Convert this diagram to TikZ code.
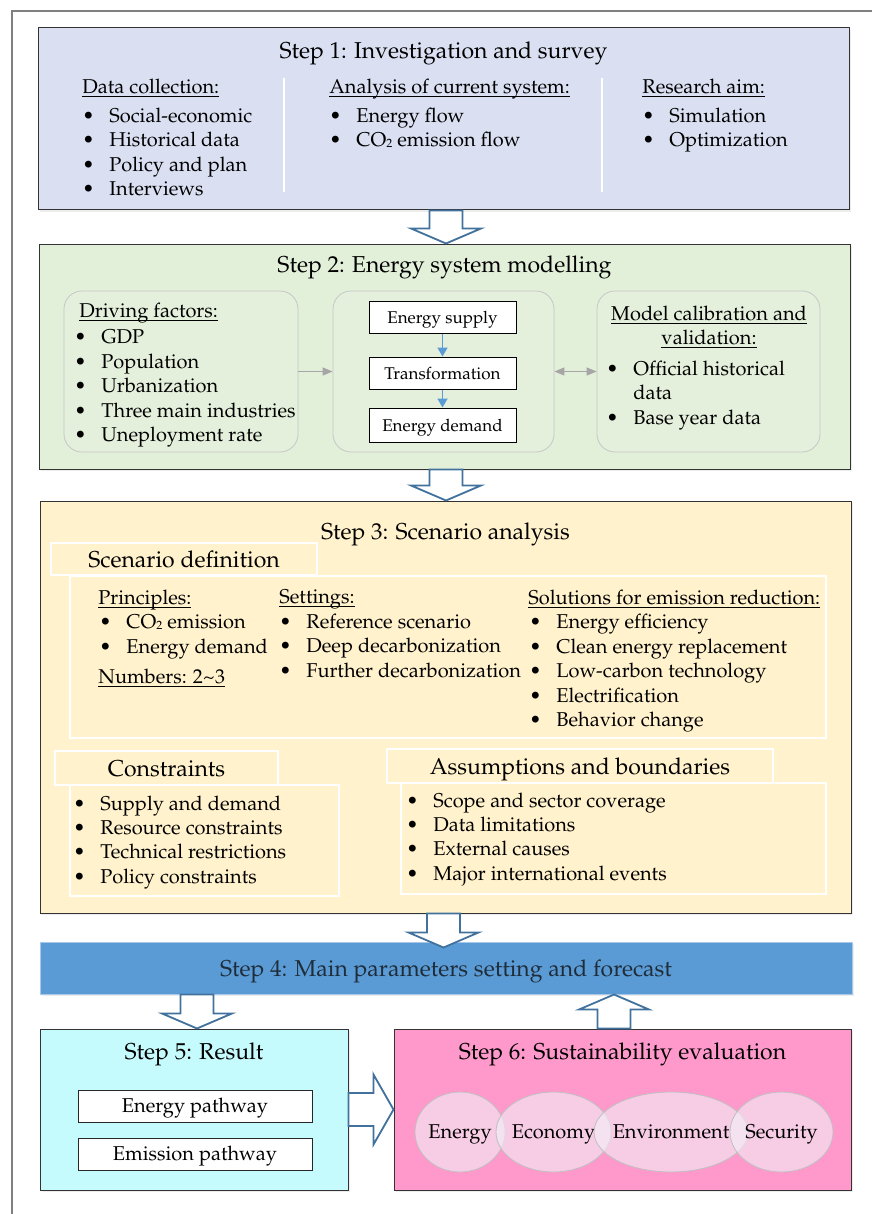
\documentclass[tikz,border=0pt]{standalone}
\usepackage[T1]{fontenc}
\usepackage{mathpazo}
\usetikzlibrary{positioning,calc,arrows.meta,shadows,shapes.geometric}

\definecolor{sone}{HTML}{DAE0F2}
\definecolor{stwo}{HTML}{E2EFD9}
\definecolor{stwoin}{HTML}{E4F0DC}
\definecolor{sthree}{HTML}{FFF2CC}
\definecolor{sfour}{HTML}{5B9BD5}
\definecolor{sfourline}{HTML}{A8C8EA}
\definecolor{sfourtext}{HTML}{1F2D3A}
\definecolor{sfive}{HTML}{C6FBFD}
\definecolor{ssix}{HTML}{FF99CC}
\definecolor{pillarfill}{HTML}{F2F2F8}
\definecolor{fatblue}{HTML}{41719C}
\definecolor{flowblue}{HTML}{5B9BD5}
\definecolor{linkgray}{HTML}{A6A6A6}
\definecolor{framegray}{HTML}{808080}

% underline just under the baseline
\newcommand{\uln}[1]{\underline{\raisebox{0pt}[\height][0pt]{#1}}}
% bullet centred at the current point, text 10.5pt further on
\newcommand{\bul}[1][3pt]{\hspace*{#1}\makebox[0pt]{\textbullet}\hspace{10.5pt}\ignorespaces}
% CO2 with a small 2
\newcommand{\cotwo}{CO\raisebox{-0.4pt}{\fontsize{6}{6}\selectfont 2}}
% block arrow from #2 to #3, head length #1
\newcommand{\fatarrow}[3][7.5pt]{%
  \coordinate (fa-base) at ($(#3)!#1!(#2)$);
  \draw[fatarrow] ($(#2)!8.25pt!90:(#3)$) -- ($(fa-base)!8.25pt!90:(#3)$)
    -- ($(fa-base)!17.5pt!90:(#3)$) -- (#3) -- ($(fa-base)!17.5pt!-90:(#3)$)
    -- ($(fa-base)!8.25pt!-90:(#3)$) -- ($(#2)!8.25pt!-90:(#3)$) -- cycle;
}

\tikzstyle{stepbox} = [draw=black!80, line width=0.5pt, inner sep=0pt, drop shadow={shadow xshift=1pt, shadow yshift=-1pt, opacity=0.15}]
\tikzstyle{steptitle} = [font=\fontsize{11.5}{14}\selectfont, anchor=base, inner sep=0pt]
\tikzstyle{list} = [font=\fontsize{10}{12.25}\selectfont, align=left, inner sep=0pt, anchor=north west]
\tikzstyle{group} = [draw=black!22, fill=stwoin, rounded corners=9pt, minimum height=80.5pt, inner sep=0pt]
\tikzstyle{flowbox} = [draw=black, line width=0.5pt, fill=white, font=\fontsize{8.5}{10}\selectfont, minimum width=73.5pt, minimum height=16pt, text height=6pt, text depth=0pt, inner sep=0pt]
\tikzstyle{panel} = [draw=white, line width=1pt, inner sep=0pt]
\tikzstyle{header} = [panel, fill=sthree, font=\fontsize{11.5}{14}\selectfont, text height=8pt, text depth=0pt]
\tikzstyle{pathbox} = [draw=black!85, line width=0.5pt, fill=white, font=\fontsize{10}{12}\selectfont, minimum width=117pt, minimum height=16pt, text height=6.9pt, text depth=0pt, inner sep=0pt]
\tikzstyle{pillar} = [ellipse, draw=black!25, fill=pillarfill, fill opacity=0.58, text opacity=1, font=\fontsize{10}{12}\selectfont, minimum height=40pt, inner xsep=-2pt, inner ysep=0pt, text height=6.9pt, text depth=0pt]
\tikzset{
  fatarrow/.style={draw=fatblue, line width=0.9pt, fill=white},
  flowarrow/.style={draw=flowblue, line width=0.9pt, -{Triangle[length=4.5pt,width=5pt]}},
  linkarrow/.style={draw=linkgray, line width=0.6pt, -{Triangle[length=5pt,width=4pt]}},
  divider/.style={draw=white, line width=0.9pt}
}

\begin{document}
\begin{tikzpicture}[x=0.5pt, y=-0.5pt]
    \useasboundingbox (0,0) rectangle (872,1214);
    \draw[framegray, line width=0.75pt] (12,1214) -- (12,11) -- (872,11);

    % Step 1
    \node[stepbox, fill=sone, minimum width=405.5pt, minimum height=91pt] (s1) at (443.5,119) {};
    \node[steptitle] (s1t) at ($(s1.north)+(0,31)$) {Step 1: Investigation and survey};
    \node[list] (data) at (82,78.5) {\uln{Data collection:}\\[2.3pt]
        \bul Social-economic\\ \bul Historical data\\ \bul Policy and plan\\ \bul Interviews};
    \node[list] (current) at (329,78.5) {\uln{Analysis of current system:}\\[2.3pt]
        \bul Energy flow\\ \bul \cotwo{} emission flow};
    \node[list] (aim) at (642,78.5) {\uln{Research aim:}\\[2.3pt]
        \bul Simulation\\ \bul Optimization};
    \draw[divider] (284,78) -- (284,192);
    \draw[divider] (602,78) -- (602,192);

    % Step 2
    \node[stepbox, fill=stwo, minimum width=405.5pt, minimum height=112.5pt] (s2) at (444.5,356.5) {};
    \node[steptitle] (s2t) at ($(s2.north)+(0,29)$) {Step 2: Energy system modelling};
    \node[group, minimum width=117pt] (drv) at (181,371.5) {};
    \node[group, minimum width=110.5pt] (core) at (443.5,371.5) {};
    \node[group, minimum width=111.5pt] (cal) at (708.5,371.5) {};
    \node[list] (drvtxt) at (79,302.5) {\uln{Driving factors:}\\[1pt]
        \bul[0.5pt] GDP\\ \bul[0.5pt] Population\\ \bul[0.5pt] Urbanization\\
        \bul[0.5pt] Three main industries\\ \bul[0.5pt] Uneployment rate};
    \node[flowbox] (supply) at (442.5,317) {Energy supply};
    \node[flowbox] (trans) at (442.5,373) {Transformation};
    \node[flowbox, minimum height=17pt] (demand) at (442.5,425) {Energy demand};
    \draw[flowarrow] (supply) -- (trans);
    \draw[flowarrow] (trans) -- (demand);
    \node[list, align=center, anchor=north] (caltitle) at (709,305.5) {\uln{Model calibration and}\\ \uln{validation:}};
    \node[list] (caltxt) at (612,360.5) {\bul[0pt] Official historical\\ \hspace*{10.5pt}data\\ \bul[0pt] Base year data};
    \draw[linkarrow] (drv) -- (core);
    \draw[linkarrow, {Triangle[length=5pt,width=4pt]}-{Triangle[length=5pt,width=4pt]}] (core) -- (cal);

    % Step 3
    \node[stepbox, fill=sthree, minimum width=405.5pt, minimum height=206pt] (s3) at (445.5,707) {};
    \node[steptitle] (s3t) at ($(s3.north)+(0,38.5)$) {Step 3: Scenario analysis};
    \node[panel, minimum width=378pt, minimum height=81pt] (defbox) at (448,657) {};
    \node[header, minimum width=133pt, minimum height=16pt] (defhead) at (184,559) {Scenario definition};
    \node[list] (princ) at (98,589.5) {\uln{Principles:}\\ \bul[3.5pt] \cotwo{} emission\\
        \bul[3.5pt] Energy demand\\[2.7pt] \uln{Numbers: 2\textasciitilde3}};
    \node[list] (sett) at (279,589.5) {\uln{Settings:}\\ \bul Reference scenario\\
        \bul Deep decarbonization\\ \bul Further decarbonization};
    \node[list] (sol) at (528,589.5) {\uln{Solutions for emission reduction:}\\
        \bul[3.5pt] Energy efficiency\\ \bul[3.5pt] Clean energy replacement\\
        \bul[3.5pt] Low-carbon technology\\ \bul[3.5pt] Electrification\\ \bul[3.5pt] Behavior change};
    \node[panel, minimum width=134.5pt, minimum height=55.5pt] (conbox) at (204.5,840.5) {};
    \node[header, minimum width=111.5pt, minimum height=17pt] (conhead) at (166.5,768) {Constraints};
    \node[list, font=\fontsize{10}{12.15}\selectfont] (contxt) at (79,795.5) {\bul[0pt] Supply and demand\\
        \bul[0pt] Resource constraints\\ \bul[0pt] Technical restrictions\\ \bul[0pt] Policy constraints};
    \node[panel, minimum width=212.5pt, minimum height=55.5pt] (asmbox) at (613.5,838.5) {};
    \node[header, minimum width=193pt, minimum height=17pt] (asmhead) at (580,766) {Assumptions and boundaries};
    \node[list, font=\fontsize{10}{12.15}\selectfont] (asmtxt) at (412,792.5) {\bul[0pt] Scope and sector coverage\\
        \bul[0pt] Data limitations\\ \bul[0pt] External causes\\ \bul[0pt] Major international events};

    % Step 4
    \node[stepbox, draw=sfourline, fill=sfour, text=sfourtext, font=\fontsize{11.5}{14}\selectfont,
        text height=8pt, text depth=0pt, minimum width=406pt, minimum height=26pt] (s4) at (446,968)
        {Step 4: Main parameters setting and forecast};

    % Step 5 and Step 6
    \node[stepbox, fill=sfive, minimum width=154pt, minimum height=80.5pt] (s5) at (194,1109.5) {};
    \node[steptitle] (s5t) at ($(s5.north)+(0,31)$) {Step 5: Result};
    \node[pathbox] (epath) at (195,1106) {Energy pathway};
    \node[pathbox] (mpath) at (195,1154) {Emission pathway};
    \node[stepbox, fill=ssix, minimum width=228.5pt, minimum height=80.5pt] (s6) at (622.5,1109.5) {};
    \node[steptitle] (s6t) at ($(s6.north)+(0,31)$) {Step 6: Sustainability evaluation};
    \node[pillar, minimum width=45pt] (energy) at (460,1132) {Energy};
    \node[pillar, minimum width=57.5pt] (economy) at (553.5,1132) {Economy};
    \node[pillar, minimum width=77pt] (environment) at (671,1132) {Environment};
    \node[pillar, minimum width=51.5pt] (security) at (781.5,1132) {Security};

    % block arrows between the steps
    \coordinate (a1s) at ($(s1.south)+(2.5,0)$);
    \coordinate (a1e) at (a1s |- s2.north);
    \fatarrow{a1s}{a1e}
    \coordinate (a2s) at ($(s2.south)+(1.5,0)$);
    \coordinate (a2e) at (a2s |- s3.north);
    \fatarrow{a2s}{a2e}
    \coordinate (a3s) at ($(s3.south)+(-2,0)$);
    \coordinate (a3e) at ($(a3s |- s4.north)+(0,6)$);
    \fatarrow{a3s}{a3e}
    \coordinate (a4e) at ($(s5.north)+(3,0)$);
    \coordinate (a4s) at (a4e |- s4.south);
    \fatarrow{a4s}{a4e}
    \coordinate (a5s) at ($(s6.north)+(-8.5,0)$);
    \coordinate (a5e) at (a5s |- s4.south);
    \fatarrow{a5s}{a5e}
    \fatarrow[10pt]{s5.east}{s6.west}
\end{tikzpicture}
\end{document}
